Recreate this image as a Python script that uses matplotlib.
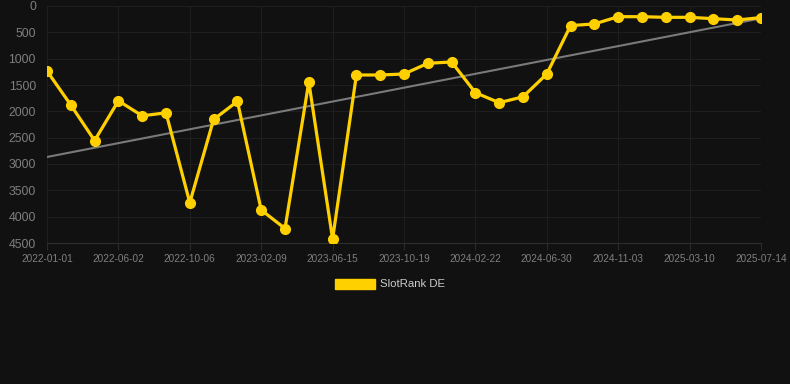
import numpy as np
import matplotlib.pyplot as plt

plt.rcParams['font.family'] = ['Liberation Sans', 'DejaVu Sans']

# SlotRank DE history (rank, lower is better)
tick_labels = ['2022-01-01', '2022-06-02', '2022-10-06', '2023-02-09', '2023-06-15',
               '2023-10-19', '2024-02-22', '2024-06-30', '2024-11-03', '2025-03-10',
               '2025-07-14']
ranks = [1234, 1880, 2555, 1800, 2085, 2028, 3735, 2155, 1810, 3873,
         4225, 1443, 4424, 1310, 1310, 1291, 1088, 1063, 1646, 1836,
         1724, 1291, 372, 340, 203, 203, 215, 215, 241, 266, 220]
yticks = [0, 500, 1000, 1500, 2000, 2500, 3000, 3500, 4000, 4500]

bg = '#111111'
gold = '#FFD000'

fig = plt.figure(figsize=(7.9, 3.84), dpi=100, facecolor=bg)
ax = fig.add_axes([47 / 790, 1 - 243 / 384, 714 / 790, 237 / 384], facecolor=bg)

x = np.arange(len(ranks))
# trend line (linear fit)
k, b = np.polyfit(x, ranks, 1)
ax.plot(x, k * x + b, color='#7a7a7a', lw=1.5, zorder=2)

ax.plot(x, ranks, color=gold, lw=2.3, marker='o', ms=7, zorder=3,
        solid_joinstyle='round', label='SlotRank DE')

ax.set_xlim(0, len(ranks) - 1)
ax.set_ylim(4500, 0)
ax.set_yticks(yticks)
ax.set_xticks(x[::3])
ax.set_xticklabels(tick_labels)

ax.grid(True, color='#1e1e1e', lw=0.8)
ax.set_axisbelow(True)
for s in ['top', 'right', 'left']:
    ax.spines[s].set_visible(False)
ax.spines['bottom'].set_color('#2e2e2e')
ax.tick_params(axis='y', length=0, pad=8, labelsize=8.8, labelcolor='#7f7f7f')
ax.tick_params(axis='x', length=5, color='#2a2a2a', pad=3, labelsize=7.2,
               labelcolor='#7f7f7f')

leg = fig.legend(handles=[plt.Rectangle((0, 0), 1, 1, color=gold)],
                 labels=['SlotRank DE'], loc='center',
                 bbox_to_anchor=(390 / 790, 1 - 284 / 384),
                 frameon=False, fontsize=8.2, labelcolor='#cccccc',
                 handlelength=3.5, handleheight=1.0, handletextpad=0.5)

fig.savefig('out.png', dpi=100, facecolor=bg)
